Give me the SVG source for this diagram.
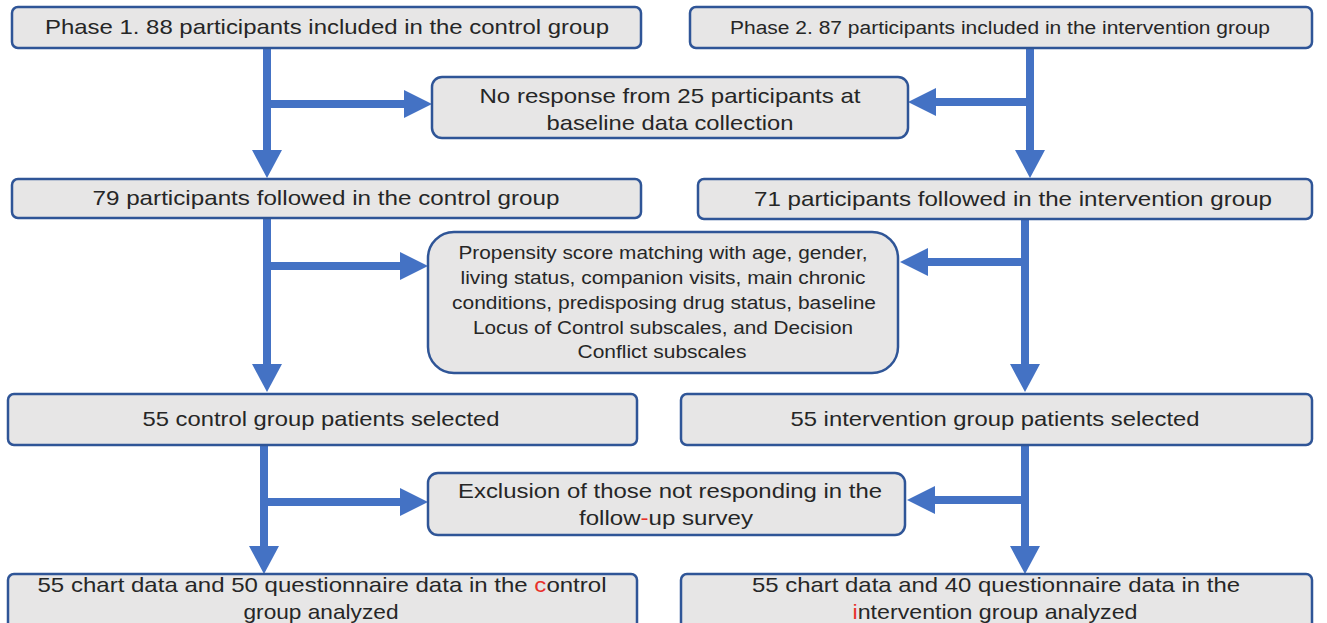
<svg xmlns="http://www.w3.org/2000/svg" width="1327" height="623" viewBox="0 0 1327 623">
<style>
.box{fill:#e7e6e6;stroke:#2f5597;stroke-width:2.5}
.t{font-family:"Liberation Sans",Arial,sans-serif;font-size:21px;fill:#262626;text-anchor:middle}
.s{font-size:18px}
.m{font-size:17.5px}
.red{fill:#e8302a}
.ln{stroke:#4472c4;stroke-width:8;fill:none}
.hd{fill:#4472c4}
</style>
<rect width="1327" height="623" fill="#ffffff"/>
<g id="connectors">
<path class="ln" d="M267,48V152M267,104H406"/>
<polygon class="hd" points="252,150 282,150 267,178"/>
<polygon class="hd" points="404,90 432,104 404,118"/>
<path class="ln" d="M1030,48V152M1030,102H934"/>
<polygon class="hd" points="1015,150 1045,150 1030,178"/>
<polygon class="hd" points="936,88 908,102 936,116"/>
<path class="ln" d="M267,218V366M267,266H402"/>
<polygon class="hd" points="252,364 282,364 267,392"/>
<polygon class="hd" points="400,252 428,266 400,280"/>
<path class="ln" d="M1025,219V366M1025,262H926"/>
<polygon class="hd" points="1010,364 1040,364 1025,392"/>
<polygon class="hd" points="928,248 900,262 928,276"/>
<path class="ln" d="M264,445V548M264,502H402"/>
<polygon class="hd" points="249,546 279,546 264,574"/>
<polygon class="hd" points="400,488 428,502 400,516"/>
<path class="ln" d="M1025,445V548M1025,500H933"/>
<polygon class="hd" points="1010,546 1040,546 1025,574"/>
<polygon class="hd" points="935,486 907,500 935,514"/>
</g>
<g id="n1"><rect class="box" x="12" y="7" width="629" height="41" rx="6"/>
<text class="t" x="327" y="34" textLength="564" lengthAdjust="spacingAndGlyphs">Phase 1. 88 participants included in the control group</text></g>
<g id="n2"><rect class="box" x="690" y="7" width="622" height="41" rx="6"/>
<text class="t s" x="1000" y="34" textLength="540" lengthAdjust="spacingAndGlyphs">Phase 2. 87 participants included in the intervention group</text></g>
<g id="n3"><rect class="box" x="432" y="77" width="476" height="61" rx="10"/>
<text class="t" x="670" y="103" textLength="381" lengthAdjust="spacingAndGlyphs">No response from 25 participants at</text>
<text class="t" x="670" y="130" textLength="247" lengthAdjust="spacingAndGlyphs">baseline data collection</text></g>
<g id="n4"><rect class="box" x="12" y="179" width="629" height="39" rx="6"/>
<text class="t" x="326" y="205" textLength="467" lengthAdjust="spacingAndGlyphs">79 participants followed in the control group</text></g>
<g id="n5"><rect class="box" x="698" y="179" width="614" height="40" rx="6"/>
<text class="t" x="1013" y="206" textLength="518" lengthAdjust="spacingAndGlyphs">71 participants followed in the intervention group</text></g>
<g id="n6"><rect class="box" x="428" y="232" width="470" height="141" rx="26"/>
<text class="t m" x="663" y="259" textLength="409" lengthAdjust="spacingAndGlyphs">Propensity score matching with age, gender,</text>
<text class="t m" x="663" y="284" textLength="405" lengthAdjust="spacingAndGlyphs">living status, companion visits, main chronic</text>
<text class="t m" x="664" y="309" textLength="424" lengthAdjust="spacingAndGlyphs">conditions, predisposing drug status, baseline</text>
<text class="t m" x="663" y="334" textLength="380" lengthAdjust="spacingAndGlyphs">Locus of Control subscales, and Decision</text>
<text class="t m" x="662" y="358" textLength="169" lengthAdjust="spacingAndGlyphs">Conflict subscales</text></g>
<g id="n7"><rect class="box" x="8" y="394" width="629" height="51" rx="6"/>
<text class="t" x="321" y="426" textLength="357" lengthAdjust="spacingAndGlyphs">55 control group patients selected</text></g>
<g id="n8"><rect class="box" x="681" y="394" width="631" height="51" rx="6"/>
<text class="t" x="995" y="426" textLength="409" lengthAdjust="spacingAndGlyphs">55 intervention group patients selected</text></g>
<g id="n9"><rect class="box" x="428" y="473" width="477" height="62" rx="10"/>
<text class="t" x="670" y="498" textLength="424" lengthAdjust="spacingAndGlyphs">Exclusion of those not responding in the</text>
<text class="t" x="666" y="525" textLength="174" lengthAdjust="spacingAndGlyphs">follow<tspan class="red">-</tspan>up survey</text></g>
<g id="n10"><rect class="box" x="8" y="574" width="629" height="56" rx="6"/>
<text class="t" x="322" y="592" textLength="569" lengthAdjust="spacingAndGlyphs">55 chart data and 50 questionnaire data in the <tspan class="red">c</tspan>ontrol</text>
<text class="t" x="321" y="619" textLength="155" lengthAdjust="spacingAndGlyphs">group analyzed</text></g>
<g id="n11"><rect class="box" x="681" y="574" width="631" height="56" rx="6"/>
<text class="t" x="996" y="592" textLength="488" lengthAdjust="spacingAndGlyphs">55 chart data and 40 questionnaire data in the</text>
<text class="t" x="995" y="619" textLength="285" lengthAdjust="spacingAndGlyphs"><tspan class="red">i</tspan>ntervention group analyzed</text></g>
</svg>
